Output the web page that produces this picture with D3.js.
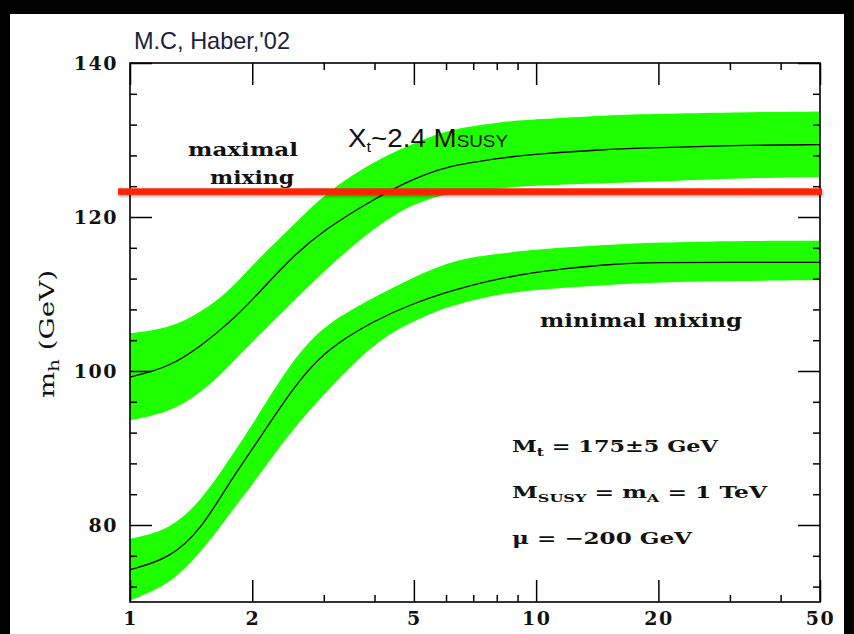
<!DOCTYPE html>
<html>
<head>
<meta charset="utf-8">
<script src="https://cdn.jsdelivr.net/npm/d3@7"></script>
<style>
  html, body { margin: 0; padding: 0; background: #000; }
  svg { display: block; }
</style>
</head>
<body>
<svg id="chart" width="854" height="634"></svg>
<script>
// ---- data ----
const xVals = [1, 1.25, 1.5, 1.75, 2, 2.5, 3, 4, 5, 6, 7, 8, 10, 15, 20, 30, 50];
const maxCentral = [99.2, 100.5, 103.3, 106.2, 109.2, 114.8, 118.3, 122.4, 125.0, 126.5, 127.1, 127.6, 128.2, 128.8, 129.0, 129.3, 129.4];
const maxHigh    = [104.9, 105.5, 107.7, 110.3, 113.8, 118.7, 123.0, 127.3, 129.6, 131.2, 131.8, 132.3, 132.7, 133.2, 133.4, 133.6, 133.7];
const maxLow     = [93.6, 94.6, 97.2, 100.6, 103.8, 108.8, 113.0, 118.7, 121.8, 123.0, 123.4, 123.7, 124.1, 124.4, 124.6, 125.0, 125.2];
const minCentral = [74.2, 75.6, 79.5, 85.4, 89.8, 97.6, 102.6, 106.6, 108.8, 110.2, 111.2, 111.9, 112.9, 113.9, 114.1, 114.1, 114.1];
const minHigh    = [78.2, 79.3, 83.2, 88.4, 93.0, 101.3, 106.0, 109.6, 112.2, 114.0, 114.8, 115.2, 115.8, 116.4, 116.7, 116.9, 116.9];
const minLow     = [70.2, 72.2, 76.5, 81.3, 85.2, 92.3, 97.0, 103.8, 106.5, 108.3, 109.2, 109.9, 110.6, 111.2, 111.5, 111.7, 111.8];
const redLineMh = 123.3;
const xMajorTicks = [1, 2, 5, 10, 20, 50];
const xMinorTicks = [3, 4, 6, 7, 8, 9, 30, 40];
const yMajorTicks = [80, 100, 120, 140];
const yMinorTicks = [72, 76, 84, 88, 92, 96, 104, 108, 112, 116, 124, 128, 132, 136];
const xDomain = [1, 50];
const yDomain = [70, 140];

// ---- layout ----
const svg = d3.select("#chart");
const L = 130, R = 820, T = 63, B = 602;
const green = "#1eff00";
const serif = "'DejaVu Serif', 'Liberation Serif', serif";
const sans = "'Liberation Sans', Arial, Helvetica, sans-serif";

svg.append("rect").attr("x", 0).attr("y", 0).attr("width", 854).attr("height", 634).attr("fill", "#000");
svg.append("rect").attr("x", 10).attr("y", 14).attr("width", 834).attr("height", 620).attr("fill", "#fff");

const x = d3.scaleLog().domain(xDomain).range([L, R]);
const y = d3.scaleLinear().domain(yDomain).range([B, T]);

const defs = svg.append("defs");
defs.append("clipPath").attr("id", "plotclip")
  .append("rect").attr("x", L).attr("y", T).attr("width", R - L).attr("height", B - T);
const f = defs.append("filter").attr("id", "blur").attr("filterUnits", "userSpaceOnUse")
  .attr("x", 0).attr("y", 0).attr("width", 854).attr("height", 634);
f.append("feGaussianBlur").attr("stdDeviation", 1.8);

const plot = svg.append("g").attr("clip-path", "url(#plotclip)");
const curve = d3.curveBasis;

function band(lo, hi) {
  return d3.area()
    .x((d, i) => x(xVals[i]))
    .y0((d, i) => y(lo[i]))
    .y1((d, i) => y(hi[i]))
    .curve(curve)(xVals);
}
function line(c) {
  return d3.line()
    .x((d, i) => x(xVals[i]))
    .y((d, i) => y(c[i]))
    .curve(curve)(xVals);
}

plot.append("path").attr("d", band(maxLow, maxHigh)).attr("fill", green);
plot.append("path").attr("d", band(minLow, minHigh)).attr("fill", green);
plot.append("path").attr("d", line(maxCentral)).attr("fill", "none").attr("stroke", "#000").attr("stroke-width", 1.3);
plot.append("path").attr("d", line(minCentral)).attr("fill", "none").attr("stroke", "#000").attr("stroke-width", 1.3);

// ---- axes (ticks pointing inward) ----
function styleAxis(g) {
  g.select(".domain").remove();
  g.selectAll(".tick line").attr("stroke", "#000").attr("stroke-width", 1.5);
}
function styleLabels(g) {
  g.selectAll("text").attr("font-family", serif).attr("font-size", 19).attr("font-weight", "bold")
    .attr("letter-spacing", 1.5).attr("fill", "#111");
}
const axLeft = svg.append("g").attr("transform", `translate(${L},0)`)
  .call(d3.axisLeft(y).tickValues(yMajorTicks).tickSizeInner(-22).tickSizeOuter(0).tickPadding(12).tickFormat(d3.format("d")));
styleAxis(axLeft); styleLabels(axLeft);
svg.append("g").attr("transform", `translate(${L},0)`)
  .call(d3.axisLeft(y).tickValues(yMinorTicks).tickSizeInner(-7).tickSizeOuter(0).tickFormat(""))
  .call(styleAxis);

svg.append("g").attr("transform", `translate(${R},0)`)
  .call(d3.axisRight(y).tickValues(yMajorTicks).tickSizeInner(-22).tickSizeOuter(0).tickFormat(""))
  .call(styleAxis);
svg.append("g").attr("transform", `translate(${R},0)`)
  .call(d3.axisRight(y).tickValues(yMinorTicks).tickSizeInner(-7).tickSizeOuter(0).tickFormat(""))
  .call(styleAxis);

const axBottom = svg.append("g").attr("transform", `translate(0,${B})`)
  .call(d3.axisBottom(x).tickValues(xMajorTicks).tickSizeInner(-22).tickSizeOuter(0).tickPadding(10).tickFormat(d3.format("d")));
styleAxis(axBottom); styleLabels(axBottom);
svg.append("g").attr("transform", `translate(0,${B})`)
  .call(d3.axisBottom(x).tickValues(xMinorTicks).tickSizeInner(-7).tickSizeOuter(0).tickFormat(""))
  .call(styleAxis);

svg.append("g").attr("transform", `translate(0,${T})`)
  .call(d3.axisTop(x).tickValues(xMajorTicks).tickSizeInner(-22).tickSizeOuter(0).tickFormat(""))
  .call(styleAxis);
svg.append("g").attr("transform", `translate(0,${T})`)
  .call(d3.axisTop(x).tickValues(xMinorTicks).tickSizeInner(-7).tickSizeOuter(0).tickFormat(""))
  .call(styleAxis);

svg.append("rect").attr("x", L).attr("y", T).attr("width", R - L).attr("height", B - T)
  .attr("fill", "none").attr("stroke", "#000").attr("stroke-width", 1.6);

// ---- red line with soft shadow ----
const ry = y(redLineMh);
svg.append("rect").attr("x", 119).attr("y", ry - 1).attr("width", 704).attr("height", 6)
  .attr("fill", "#000").attr("opacity", 0.35).attr("filter", "url(#blur)");
svg.append("rect").attr("x", 118).attr("y", ry - 3.3).attr("width", 704).attr("height", 6.6)
  .attr("fill", "#ff2200");

// ---- texts ----
svg.append("text").attr("x", 134).attr("y", 49)
  .attr("font-family", sans).attr("font-size", 24).attr("fill", "#1a2238")
  .attr("textLength", 156).attr("lengthAdjust", "spacingAndGlyphs")
  .text("M.C, Haber,'02");

const yt = svg.append("text")
  .attr("transform", "translate(54,334) rotate(-90)")
  .attr("text-anchor", "middle")
  .attr("font-family", serif).attr("font-size", 20).attr("fill", "#111")
  .attr("textLength", 128).attr("lengthAdjust", "spacingAndGlyphs");
yt.append("tspan").text("m");
yt.append("tspan").attr("font-size", 14).attr("dy", 5).text("h");
yt.append("tspan").attr("dy", -5).text(" (GeV)");

svg.append("text").attr("x", 188).attr("y", 156)
  .attr("font-family", serif).attr("font-weight", "bold").attr("font-size", 19).attr("fill", "#111")
  .attr("textLength", 110).attr("lengthAdjust", "spacingAndGlyphs").text("maximal");
svg.append("text").attr("x", 210).attr("y", 184)
  .attr("font-family", serif).attr("font-weight", "bold").attr("font-size", 19).attr("fill", "#111")
  .attr("textLength", 84).attr("lengthAdjust", "spacingAndGlyphs").text("mixing");

svg.append("text").attr("x", 540).attr("y", 327)
  .attr("font-family", serif).attr("font-weight", "bold").attr("font-size", 19).attr("fill", "#111")
  .attr("textLength", 202).attr("lengthAdjust", "spacingAndGlyphs").text("minimal mixing");

const xt = svg.append("text").attr("x", 348).attr("y", 147)
  .attr("font-family", sans).attr("font-size", 25).attr("fill", "#111")
  .attr("textLength", 160).attr("lengthAdjust", "spacingAndGlyphs");
xt.append("tspan").text("X");
xt.append("tspan").attr("font-size", 15).attr("dy", 5).text("t");
xt.append("tspan").attr("dy", -5).text("~2.4 M");
xt.append("tspan").attr("font-size", 17).text("SUSY");

function param(yPos, parts, width) {
  const t = svg.append("text").attr("x", 512).attr("y", yPos)
    .attr("font-family", serif).attr("font-weight", "bold").attr("font-size", 16).attr("fill", "#111")
    .attr("textLength", width).attr("lengthAdjust", "spacingAndGlyphs");
  parts.forEach(p => {
    const s = t.append("tspan").text(p.t);
    if (p.sub) s.attr("font-size", 11).attr("dy", 4);
    if (p.back) s.attr("dy", -4);
  });
  return t;
}
param(452, [{t: "M"}, {t: "t", sub: true}, {t: " = 175±5 GeV", back: true}], 206);
param(498, [{t: "M"}, {t: "SUSY", sub: true}, {t: " = m", back: true}, {t: "A", sub: true}, {t: " = 1 TeV", back: true}], 255);
param(544, [{t: "μ = −200 GeV"}], 180);
</script>
</body>
</html>
